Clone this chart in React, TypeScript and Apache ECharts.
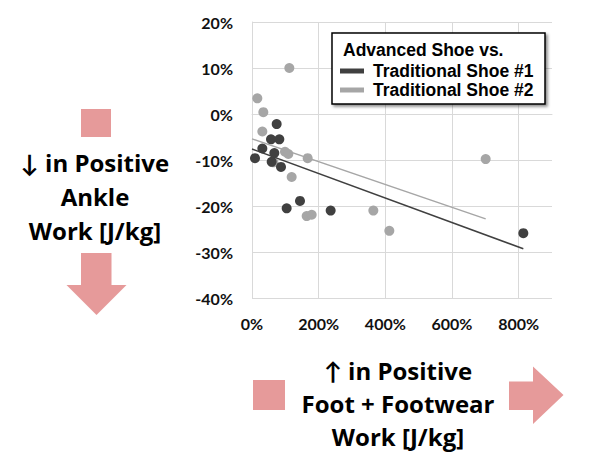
import { useEffect, useRef } from "react";
import * as echarts from "echarts";

// Advanced shoe vs traditional shoes: change in foot+footwear work (x) vs ankle work (y)
const shoe1Points: [number, number][] = [
  [9, -9.6], [31, -7.5], [57, -5.5], [59, -10.4], [67, -8.5], [74, -2.2],
  [82, -5.5], [87, -11.5], [104, -20.5], [144, -18.9], [236, -21], [814, -25.9],
];
const shoe2Points: [number, number][] = [
  [16, 3.4], [31, -3.8], [34, 0.4], [64, -10.5], [99, -8.2], [109, -8.7],
  [112, 10], [119, -13.7], [164, -22.2], [167, -9.6], [179, -21.9],
  [364, -21], [412, -25.4], [701, -9.8],
];
// trendline end points
const shoe1Trend: [number, number][] = [[0, -7.6], [814, -29.3]];
const shoe2Trend: [number, number][] = [[0, -5.4], [701, -22.8]];

const seriesNames = ["Traditional Shoe #1", "Traditional Shoe #2"];
const legendTitle = "Advanced Shoe vs.";
const yTitle = "↓ in Positive\nAnkle\nWork [J/kg]";
const xTitle = "↑ in Positive\nFoot + Footwear\nWork [J/kg]";

const DARK = "#404040";
const LIGHT = "#A6A6A6";
const PINK = "#E69A9A";
const GRID = "#D9D9D9";
const FONT = "Lato, 'Open Sans', sans-serif";
const TITLE_FONT = "'Open Sans', Lato, sans-serif";
const LEGEND_FONT = "'Liberation Sans', Arial, sans-serif";

export default function App() {
  const chartRef = useRef<HTMLDivElement>(null);

  useEffect(() => {
    if (!chartRef.current) return;
    const chart = echarts.init(chartRef.current, null, { renderer: "svg" });

    const option: echarts.EChartsOption = {
      animation: false,
      grid: { left: 252, right: 39, top: 22, bottom: 172 },
      xAxis: {
        type: "value",
        min: 0,
        max: 900,
        interval: 200,
        axisLine: { show: true, lineStyle: { color: GRID } },
        axisTick: { show: false },
        axisLabel: {
          showMaxLabel: false,
          formatter: "{value}%",
          color: "#111",
          fontSize: 16,
          fontWeight: "bold",
          fontFamily: FONT,
          margin: 17,
        },
        splitLine: {
          show: true,
          lineStyle: { color: [GRID, GRID, GRID, GRID, GRID, "rgba(0,0,0,0)"] },
        },
      },
      yAxis: {
        type: "value",
        min: -40,
        max: 20,
        interval: 10,
        axisLine: { show: true, lineStyle: { color: GRID } },
        axisTick: { show: false },
        axisLabel: {
          formatter: "{value}%",
          color: "#111",
          fontSize: 16,
          fontWeight: "bold",
          fontFamily: FONT,
          margin: 19,
        },
        splitLine: { show: true, lineStyle: { color: GRID } },
      },
      legend: {
        orient: "vertical",
        left: 340,
        top: 62,
        padding: 0,
        itemWidth: 24,
        itemHeight: 5,
        itemGap: 1,
        data: [
          { name: seriesNames[0], icon: "rect", itemStyle: { color: DARK } },
          { name: seriesNames[1], icon: "rect", itemStyle: { color: LIGHT } },
        ],
        textStyle: {
          color: "#000",
          fontSize: 17.5,
          fontWeight: "bold",
          fontFamily: LEGEND_FONT,
          padding: [0, 0, 0, 4],
        },
        z: 6,
      },
      series: [
        {
          name: seriesNames[1],
          type: "scatter",
          data: shoe2Points,
          symbolSize: 10,
          itemStyle: { color: LIGHT, opacity: 1 },
          z: 2,
        },
        {
          name: seriesNames[0],
          type: "scatter",
          data: shoe1Points,
          symbolSize: 10,
          itemStyle: { color: DARK, opacity: 1 },
          z: 2,
        },
        {
          name: seriesNames[1],
          type: "line",
          data: shoe2Trend,
          showSymbol: false,
          symbol: "none",
          lineStyle: { color: LIGHT, width: 1.5 },
          itemStyle: { color: LIGHT },
          z: 3,
        },
        {
          name: seriesNames[0],
          type: "line",
          data: shoe1Trend,
          showSymbol: false,
          symbol: "none",
          lineStyle: { color: DARK, width: 1.5 },
          itemStyle: { color: DARK },
          z: 3,
        },
      ],
      graphic: [
        // legend box
        {
          type: "rect",
          z: 4,
          shape: { x: 332, y: 33, width: 213, height: 71 },
          style: {
            fill: "#fff",
            stroke: "#000",
            lineWidth: 1.5,
            shadowBlur: 3,
            shadowOffsetX: 2,
            shadowOffsetY: 2,
            shadowColor: "rgba(0,0,0,0.45)",
          },
        },
        {
          type: "text",
          z: 6,
          x: 343,
          y: 50,
          style: {
            text: legendTitle,
            fill: "#000",
            font: `bold 17.5px ${LEGEND_FONT}`,
            textVerticalAlign: "middle",
          },
        },
        // left annotation: square, text, down arrow
        {
          type: "rect",
          shape: { x: 81, y: 109, width: 30, height: 28 },
          style: { fill: PINK },
        },
        {
          type: "text",
          x: 95,
          y: 196,
          style: {
            text: yTitle,
            fill: "#000",
            font: `bold 24px ${TITLE_FONT}`,
            lineHeight: 34,
            textAlign: "center",
            textVerticalAlign: "middle",
          },
        },
        {
          type: "polygon",
          shape: {
            points: [
              [81, 253], [111.5, 253], [111.5, 285], [126.5, 285],
              [96.5, 315], [66.5, 285], [81, 285],
            ],
          },
          style: { fill: PINK },
        },
        // bottom annotation: square, text, right arrow
        {
          type: "rect",
          shape: { x: 253, y: 380, width: 32, height: 30 },
          style: { fill: PINK },
        },
        {
          type: "text",
          x: 398,
          y: 403,
          style: {
            text: xTitle,
            fill: "#000",
            font: `bold 24px ${TITLE_FONT}`,
            lineHeight: 33,
            textAlign: "center",
            textVerticalAlign: "middle",
          },
        },
        {
          type: "polygon",
          shape: {
            points: [
              [509, 381.5], [533, 381.5], [533, 366.5], [563.5, 395],
              [533, 424], [533, 410], [509, 410],
            ],
          },
          style: { fill: PINK },
        },
      ],
    };

    chart.setOption(option);
    return () => chart.dispose();
  }, []);

  return (
    <div
      ref={chartRef}
      style={{ position: "absolute", left: 0, top: 0, width: 591, height: 470, background: "#fff" }}
    />
  );
}
